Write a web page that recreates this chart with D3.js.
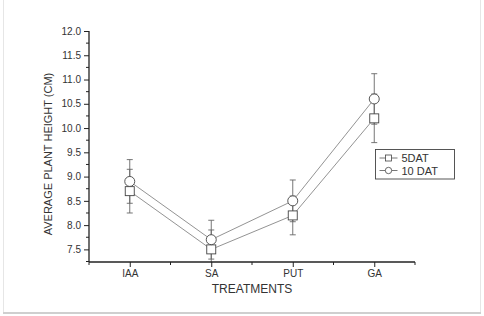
<!DOCTYPE html>
<html>
<head>
<meta charset="utf-8">
<script src="https://cdn.jsdelivr.net/npm/d3@7"></script>
<style>
  body { margin: 0; background: #fff; }
  svg { display: block; font-family: "Liberation Sans", Arial, sans-serif; }
</style>
</head>
<body>
<svg id="chart" width="484" height="316"></svg>
<script>
// treatments and mean heights
var treatments = ['IAA', 'SA', 'PUT', 'GA'];
var dat5 = [8.7, 7.5, 8.2, 10.2];
var dat5Err = [0.45, 0.4, 0.4, 0.5];
var dat10 = [8.9, 7.7, 8.5, 10.6];
var dat10Err = [0.45, 0.4, 0.43, 0.52];
var yTicks = [7.5, 8.0, 8.5, 9.0, 9.5, 10.0, 10.5, 11.0, 11.5, 12.0];

var svg = d3.select('#chart');
var plotLeft = 89, plotRight = 415, plotTop = 31, plotBottom = 262;

// page frame
svg.append('line').attr('x1', 3.5).attr('x2', 3.5).attr('y1', 0).attr('y2', 313)
    .attr('stroke', '#e6e6e6').attr('stroke-width', 1);
svg.append('line').attr('x1', 480.5).attr('x2', 480.5).attr('y1', 0).attr('y2', 313)
    .attr('stroke', '#e6e6e6').attr('stroke-width', 1);
svg.append('line').attr('x1', 3).attr('x2', 481).attr('y1', 313).attr('y2', 313)
    .attr('stroke', '#cfcfcf').attr('stroke-width', 2);

var x = d3.scalePoint().domain(treatments).range([plotLeft, plotRight]).padding(0.5);
var y = d3.scaleLinear().domain([7.24, 12.0]).range([plotBottom, plotTop]);

var series = [
    {name: '5DAT', vals: dat5, err: dat5Err, shape: 'square'},
    {name: '10 DAT', vals: dat10, err: dat10Err, shape: 'circle'}
];

svg.append('clipPath').attr('id', 'plotclip')
    .append('rect').attr('x', plotLeft).attr('y', plotTop)
    .attr('width', plotRight - plotLeft).attr('height', plotBottom - plotTop);

var plot = svg.append('g').attr('clip-path', 'url(#plotclip)');

series.forEach(function(s) {
    var g = plot.append('g');
    var line = d3.line()
        .x(function(d, i) { return x(treatments[i]); })
        .y(function(d) { return y(d); });
    g.append('path').datum(s.vals)
        .attr('d', line)
        .attr('fill', 'none')
        .attr('stroke', '#777')
        .attr('stroke-width', 0.8);
    // error bars
    s.vals.forEach(function(v, i) {
        var cx = x(treatments[i]);
        var eg = g.append('g').attr('stroke', '#666').attr('stroke-width', 0.9);
        eg.append('line').attr('x1', cx).attr('x2', cx).attr('y1', y(v + s.err[i])).attr('y2', y(v - s.err[i]));
        [v + s.err[i], v - s.err[i]].forEach(function(e) {
            eg.append('line').attr('x1', cx - 3).attr('x2', cx + 3).attr('y1', y(e)).attr('y2', y(e));
        });
    });
});

// markers on top
series.forEach(function(s) {
    s.vals.forEach(function(v, i) {
        var cx = x(treatments[i]), cy = y(v);
        if (s.shape === 'square') {
            plot.append('rect').attr('x', cx - 4.5).attr('y', cy - 4.5).attr('width', 9).attr('height', 9)
                .attr('fill', '#fff').attr('stroke', '#444').attr('stroke-width', 0.9);
        } else {
            plot.append('circle').attr('cx', cx).attr('cy', cy).attr('r', 5)
                .attr('fill', '#fff').attr('stroke', '#444').attr('stroke-width', 0.9);
        }
    });
});

// y axis
var yAxis = d3.axisLeft(y).tickValues(yTicks).tickFormat(d3.format('.1f')).tickSize(5).tickPadding(3);
var yg = svg.append('g').attr('transform', 'translate(' + plotLeft + ',0)').call(yAxis);
yg.select('.domain').attr('d', 'M0,' + plotTop + 'V' + plotBottom);
var yMinor = d3.range(7.25, 12.0, 0.5);
yg.selectAll('.minor').data(yMinor).enter().append('line')
    .attr('x1', 0).attr('x2', -3).attr('y1', function(d) { return y(d); }).attr('y2', function(d) { return y(d); })
    .attr('stroke', '#222');

// x axis
var xAxis = d3.axisBottom(x).tickSize(5).tickPadding(3);
var xg = svg.append('g').attr('transform', 'translate(0,' + plotBottom + ')').call(xAxis);
xg.select('.domain').attr('d', 'M' + plotLeft + ',0H' + plotRight);
var step = x.step();
var xMinor = treatments.map(function(t) { return x(t) - step / 2; })
    .concat([x(treatments[treatments.length - 1]) + step / 2]);
xg.selectAll('.minor').data(xMinor).enter().append('line')
    .attr('x1', function(d) { return d; }).attr('x2', function(d) { return d; })
    .attr('y1', 0).attr('y2', 3).attr('stroke', '#222');

[yg, xg].forEach(function(g) {
    g.select('.domain').attr('stroke', '#222').attr('stroke-width', 1.3);
    g.selectAll('.tick line').attr('stroke', '#222');
    g.selectAll('.tick text').attr('fill', '#333').style('font-size', '10px')
        .style('font-family', '"Liberation Sans", Arial, sans-serif');
});

// axis titles
svg.append('text')
    .attr('transform', 'translate(52,154) rotate(-90)')
    .attr('text-anchor', 'middle')
    .attr('fill', '#333')
    .style('font-size', '11px')
    .text('AVERAGE PLANT HEIGHT (CM)');
svg.append('text')
    .attr('x', 252).attr('y', 293)
    .attr('text-anchor', 'middle')
    .attr('fill', '#333')
    .style('font-size', '12px')
    .text('TREATMENTS');

// legend
var lg = svg.append('g').attr('transform', 'translate(375.5,149.5)');
lg.append('rect').attr('width', 79).attr('height', 29.5).attr('fill', '#fff')
    .attr('stroke', '#444').attr('stroke-width', 0.9);
series.forEach(function(s, i) {
    var ly = 8.5 + i * 12.5;
    lg.append('line').attr('x1', 4).attr('x2', 22).attr('y1', ly).attr('y2', ly)
        .attr('stroke', '#555').attr('stroke-width', 0.8);
    if (s.shape === 'square') {
        lg.append('rect').attr('x', 10).attr('y', ly - 3).attr('width', 6).attr('height', 6)
            .attr('fill', '#fff').attr('stroke', '#444').attr('stroke-width', 0.8);
    } else {
        lg.append('circle').attr('cx', 13).attr('cy', ly).attr('r', 3.2)
            .attr('fill', '#fff').attr('stroke', '#444').attr('stroke-width', 0.8);
    }
    lg.append('text').attr('x', 26).attr('y', ly + 4).attr('fill', '#333')
        .style('font-size', '11px').text(s.name);
});
</script>
</body>
</html>
